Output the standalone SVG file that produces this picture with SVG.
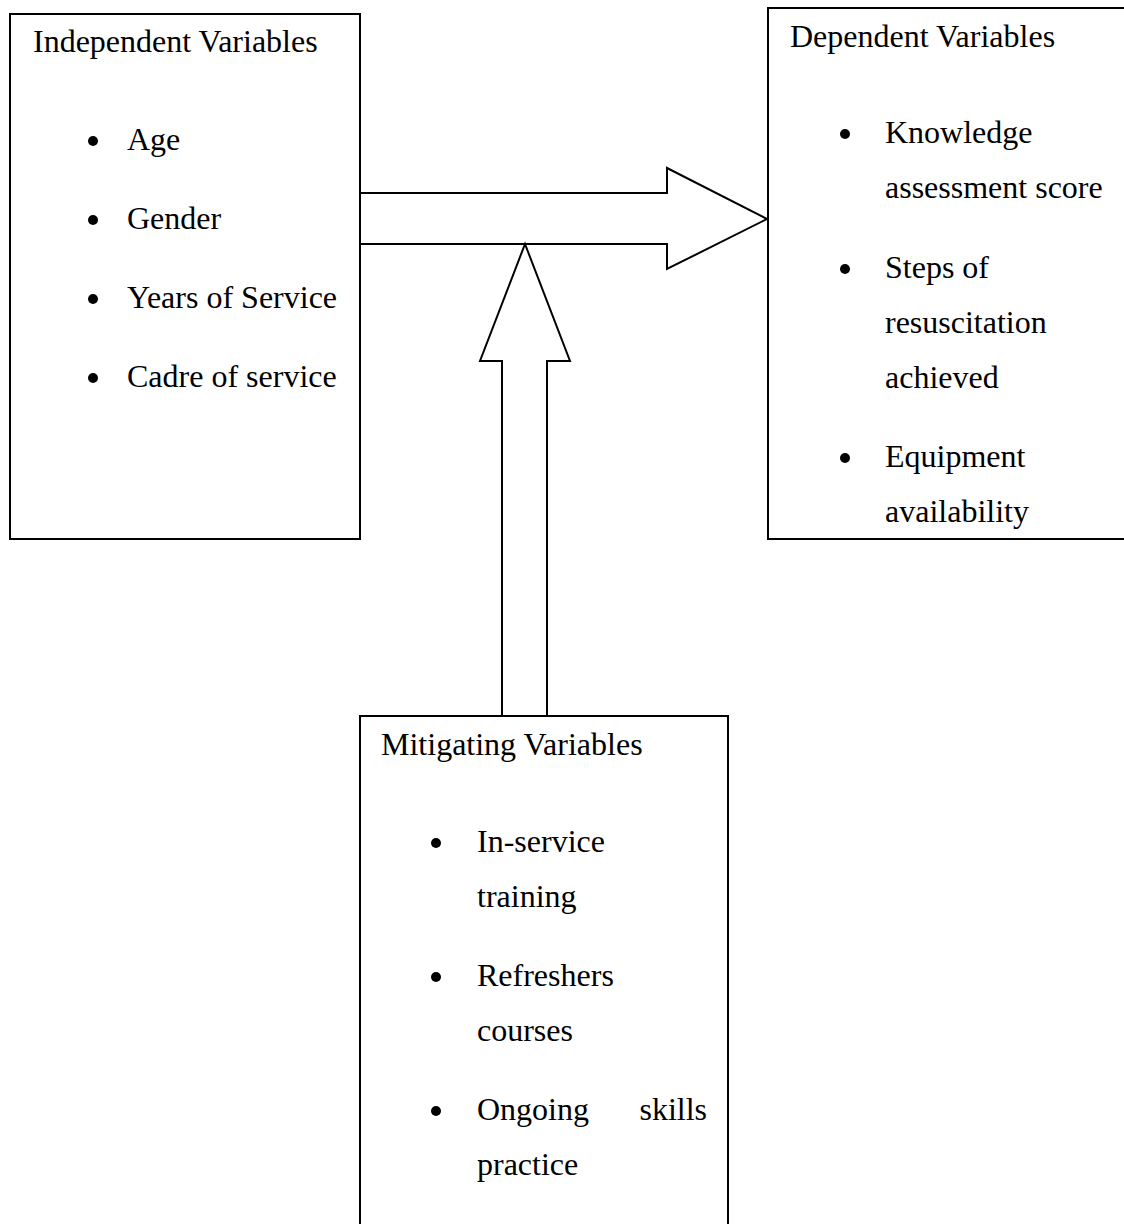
<svg xmlns="http://www.w3.org/2000/svg" width="1124" height="1224" viewBox="0 0 1124 1224">
<style>
.box{fill:#fff;stroke:#000;stroke-width:2}
.arrow{fill:#fff;stroke:#000;stroke-width:2;stroke-linejoin:miter}
text{font-family:"Liberation Serif","Times New Roman",serif;font-size:32px;fill:#000}
.dot{fill:#000}
</style>
<rect width="1124" height="1224" fill="#fff"/>
<g id="connectors">
<polygon class="arrow" points="360,193 667,193 667,168 767,219 667,269 667,244 360,244"/>
<polygon class="arrow" points="502,716 502,361 480,361 525,244 570,361 547,361 547,716"/>
</g>
<g id="independent">
<rect class="box" x="10" y="14" width="350" height="525"/>
<text x="33" y="52">Independent Variables</text>
<circle class="dot" cx="93" cy="141" r="5"/><text x="127" y="150">Age</text>
<circle class="dot" cx="93" cy="220" r="5"/><text x="127" y="229">Gender</text>
<circle class="dot" cx="93" cy="299" r="5"/><text x="127" y="308">Years of Service</text>
<circle class="dot" cx="93" cy="378" r="5"/><text x="127" y="387">Cadre of service</text>
</g>
<g id="dependent">
<rect class="box" x="768" y="8" width="370" height="531"/>
<text x="790" y="47">Dependent Variables</text>
<circle class="dot" cx="845" cy="134" r="5"/><text x="885" y="143">Knowledge</text>
<text x="885" y="198">assessment score</text>
<circle class="dot" cx="845" cy="269" r="5"/><text x="885" y="278">Steps of</text>
<text x="885" y="333">resuscitation</text>
<text x="885" y="388">achieved</text>
<circle class="dot" cx="845" cy="458" r="5"/><text x="885" y="467">Equipment</text>
<text x="885" y="522">availability</text>
</g>
<g id="mitigating">
<rect class="box" x="360" y="716" width="368" height="520"/>
<text x="381" y="755">Mitigating Variables</text>
<circle class="dot" cx="436" cy="843" r="5"/><text x="477" y="852">In-service</text>
<text x="477" y="907">training</text>
<circle class="dot" cx="436" cy="977" r="5"/><text x="477" y="986">Refreshers</text>
<text x="477" y="1041">courses</text>
<circle class="dot" cx="436" cy="1111" r="5"/><text x="477" y="1120">Ongoing</text>
<text x="707" y="1120" text-anchor="end">skills</text>
<text x="477" y="1175">practice</text>
</g>
</svg>
